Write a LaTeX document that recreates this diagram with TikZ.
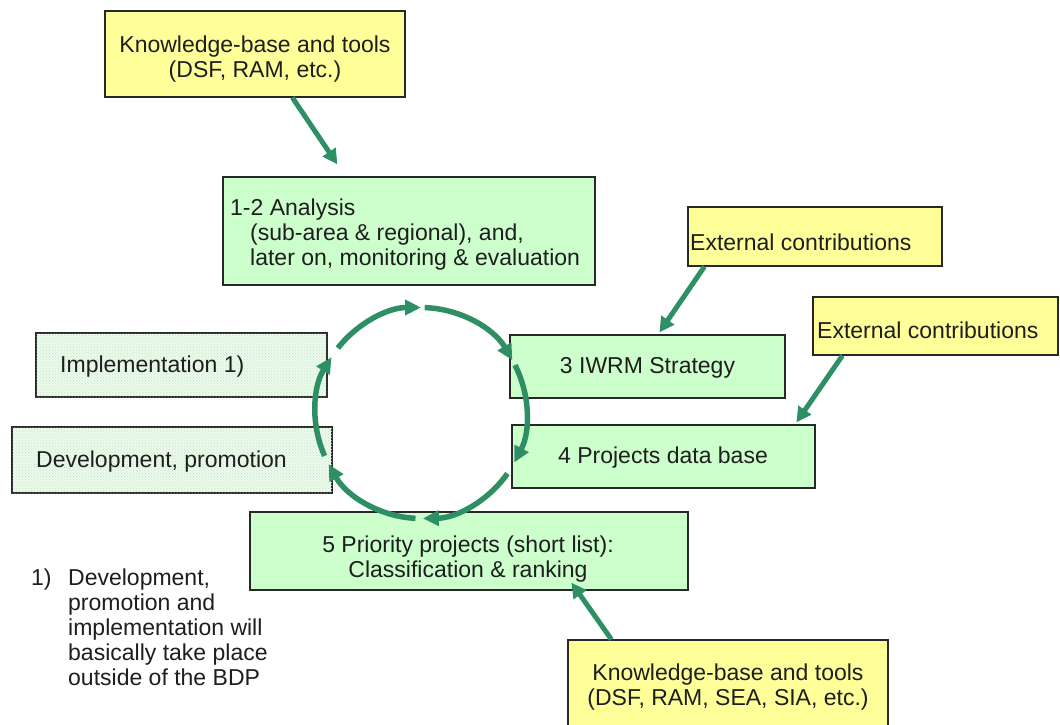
\documentclass[tikz,border=0pt]{standalone}
\usepackage{fontspec}
\setmainfont{Liberation Sans}
\usetikzlibrary{arrows.meta,patterns}
\definecolor{arrowgreen}{RGB}{47,143,100}
\definecolor{boxgreen}{RGB}{204,255,204}
\definecolor{boxyellow}{RGB}{255,255,153}
\definecolor{dotbg}{RGB}{236,250,236}
\definecolor{dotfg}{RGB}{196,230,196}
\definecolor{bordercol}{RGB}{40,40,40}
\definecolor{txtcol}{RGB}{30,30,30}
\begin{document}
\begin{tikzpicture}[x=1pt,y=-1pt,
  basebox/.style={draw=bordercol, line width=1.2pt, inner sep=0pt},
  gbox/.style={basebox, fill=boxgreen},
  ybox/.style={basebox, fill=boxyellow},
  dbox/.style={basebox, fill=dotbg, postaction={pattern=crosshatch dots, pattern color=dotfg}},
  txt/.style={inner sep=0pt, text=txtcol, font=\fontsize{23}{25}\selectfont},
  arr/.style={draw=arrowgreen, line width=5pt, -{Triangle[length=15pt,width=15pt]}},
  carr/.style={draw=arrowgreen, line width=5.5pt, -{Triangle[length=16pt,width=15pt]}}]
\useasboundingbox (0,0) rectangle (1060,724);
\fill[white] (0,0) rectangle (1060,724);

% boxes
\node[ybox, minimum width=300pt, minimum height=86pt] (kb1) at (255,54) {};
\node[gbox, minimum width=372pt, minimum height=108pt] (ana) at (409,231) {};
\node[ybox, minimum width=254pt, minimum height=59pt] (ext1) at (815,236.5) {};
\node[ybox, minimum width=245pt, minimum height=58pt] (ext2) at (935.5,326) {};
\node[gbox, minimum width=275pt, minimum height=63pt] (iwrm) at (647.5,366.5) {};
\node[gbox, minimum width=303pt, minimum height=63pt] (proj) at (663.5,456.5) {};
\node[dbox, minimum width=291pt, minimum height=64pt] (impl) at (181.5,365) {};
\node[dbox, minimum width=320pt, minimum height=66pt] (dev) at (172,460) {};
\node[gbox, minimum width=438pt, minimum height=78pt] (prio) at (469,551) {};
\node[ybox, minimum width=320pt, minimum height=95pt] (kb2) at (728,687.5) {};

% texts
\node[txt, anchor=base] (kb1t) at (255,52) {\begin{tabular}[t]{@{}c@{}}Knowledge-base and tools\\(DSF, RAM, etc.)\end{tabular}};
\node[txt, anchor=base west] (anat) at (230,215) {\begin{tabular}[t]{@{}l@{}}1-2 Analysis\\\hspace*{20pt}(sub-area \& regional), and,\\\hspace*{20pt}later on, monitoring \& evaluation\end{tabular}};
\node[txt, anchor=base west] (ext1t) at (690,250) {External contributions};
\node[txt, anchor=base west] (ext2t) at (817,338) {External contributions};
\node[txt, anchor=base] (iwrmt) at (647.5,373) {3 IWRM Strategy};
\node[txt, anchor=base] (projt) at (663,463) {4 Projects data base};
\node[txt, anchor=base west] (implt) at (60,372) {Implementation 1)};
\node[txt, anchor=base west] (devt) at (36,467) {Development, promotion};
\node[txt, anchor=base] (priot) at (468,552) {\begin{tabular}[t]{@{}c@{}}5 Priority projects (short list):\\Classification \& ranking\end{tabular}};
\node[txt, anchor=base] (kb2t) at (728,680) {\begin{tabular}[t]{@{}c@{}}Knowledge-base and tools\\(DSF, RAM, SEA, SIA, etc.)\end{tabular}};
\node[txt, anchor=base west] (note) at (31,585) {\begin{tabular}[t]{@{}p{37pt}@{}l@{}}1) & Development,\\ & promotion and\\ & implementation will\\ & basically take place\\ & outside of the BDP\end{tabular}};

% cycle
\coordinate (c) at (421,413);
\draw[carr] ([shift={(142:105.5pt)}]c) arc[start angle=142, end angle=90, radius=105.5pt];
\draw[carr] ([shift={(88:105.5pt)}]c) arc[start angle=88, end angle=30, radius=105.5pt];
\draw[carr] ([shift={(27:105.5pt)}]c) arc[start angle=27, end angle=-28, radius=105.5pt];
\draw[carr] ([shift={(-35:105.5pt)}]c) arc[start angle=-35, end angle=-89, radius=105.5pt];
\draw[carr] ([shift={(-93:105.5pt)}]c) arc[start angle=-93, end angle=-151, radius=105.5pt];
\draw[carr] ([shift={(-156:105.5pt)}]c) arc[start angle=-156, end angle=-212, radius=105.5pt];

% inputs
\draw[arr] ([xshift=188pt]kb1.south west) -- ([xshift=115pt,yshift=12pt]ana.north west);
\draw[arr] ([xshift=17pt]ext1.south west) -- ([xshift=150pt,yshift=2pt]iwrm.north west);
\draw[arr] ([xshift=30pt]ext2.south west) -- ([xshift=285pt,yshift=2pt]proj.north west);
\draw[arr] ([xshift=44pt]kb2.north west) -- ([xshift=322pt,yshift=8pt]prio.south west);
\end{tikzpicture}
\end{document}
